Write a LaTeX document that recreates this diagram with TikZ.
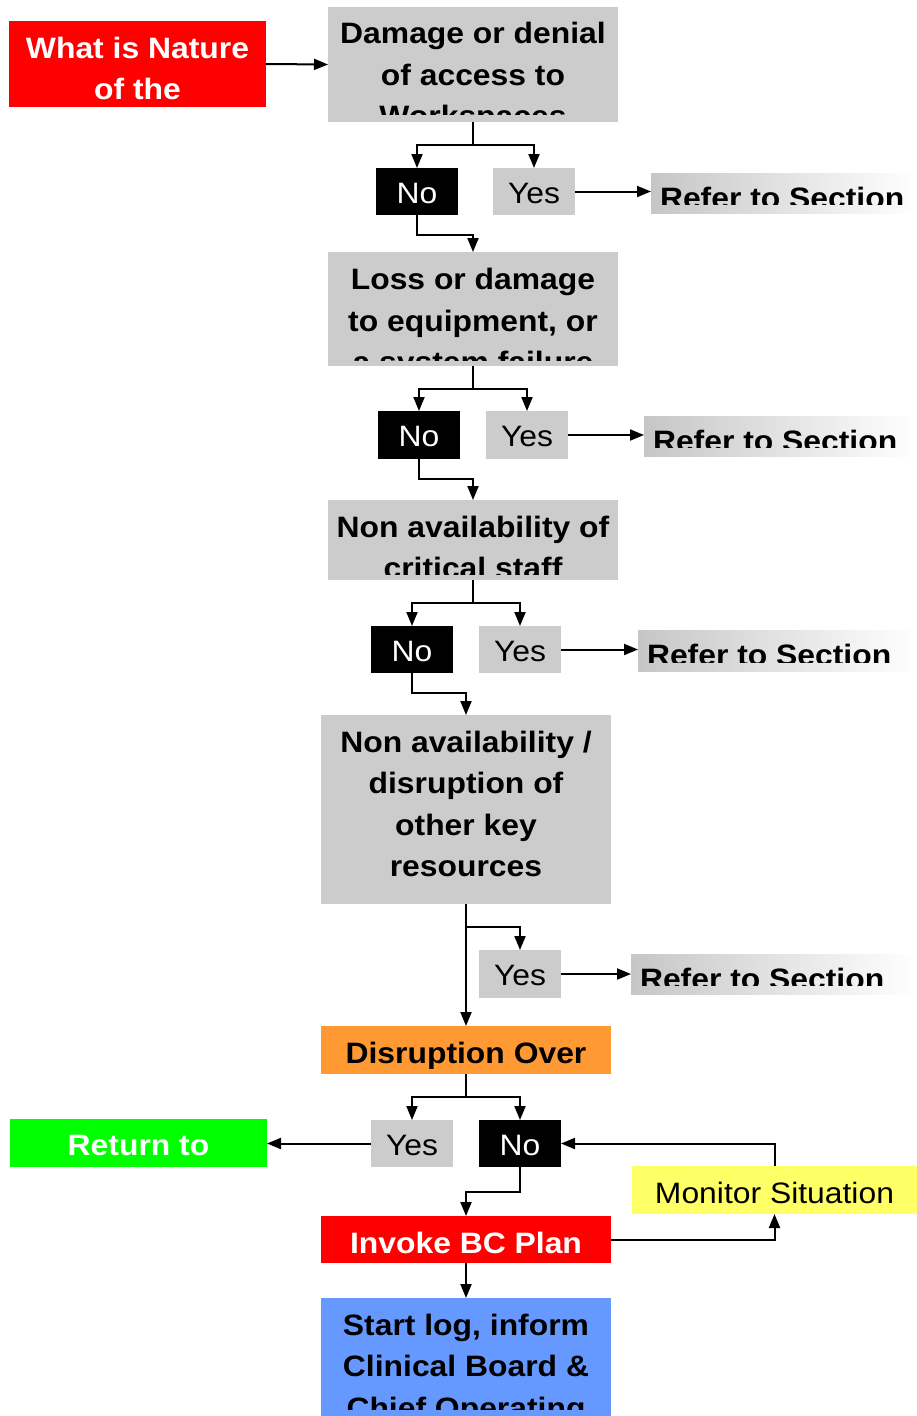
\documentclass[tikz,border=0pt]{standalone}
\usepackage{fontspec}
\setmainfont{Liberation Sans}[FakeStretch=1.08]
\usetikzlibrary{arrows.meta,shadings}
\definecolor{boxgray}{HTML}{CCCCCC}
\definecolor{refgray}{HTML}{C6C6C6}
\definecolor{bred}{HTML}{FF0000}
\definecolor{borange}{HTML}{FF9933}
\definecolor{bgreen}{HTML}{00FF00}
\definecolor{byellow}{HTML}{FFFF66}
\definecolor{bblue}{HTML}{6699FF}
\tikzset{
  shape box/.style={rectangle, inner sep=0pt, outer sep=0pt, anchor=north west, draw=none},
  refbox/.style={shape box, left color=refgray, right color=white},
  txt/.style={inner sep=0pt, outer sep=0pt, align=center, font=\fontsize{29.5}{41.5}\selectfont\bfseries},
  rtxt/.style={inner sep=0pt, outer sep=0pt, align=center, font=\fontsize{29.5}{41.5}\selectfont},
  arr/.style={line width=2pt, -{Triangle[length=14pt,width=11pt]}},
  ln/.style={line width=2pt},
}
\begin{document}
\begin{tikzpicture}[x=1pt,y=-1pt]
\useasboundingbox (0,0) rectangle (917,1416);

% ---------- boxes ----------
\node[shape box, fill=bred, minimum width=257pt, minimum height=86pt] (red) at (9,21) {};
\node[shape box, fill=boxgray, minimum width=290pt, minimum height=115pt] (q1) at (328,7) {};
\node[shape box, fill=black, minimum width=82pt, minimum height=47pt] (no1) at (376,168) {};
\node[shape box, fill=boxgray, minimum width=82pt, minimum height=47pt] (yes1) at (493,168) {};
\node[refbox, minimum width=266pt, minimum height=40pt] (ref1) at (651,173) {};

\node[shape box, fill=boxgray, minimum width=290pt, minimum height=114pt] (q2) at (328,252) {};
\node[shape box, fill=black, minimum width=82pt, minimum height=48pt] (no2) at (378,411) {};
\node[shape box, fill=boxgray, minimum width=82pt, minimum height=48pt] (yes2) at (486,411) {};
\node[refbox, minimum width=273pt, minimum height=40pt] (ref2) at (644,416) {};

\node[shape box, fill=boxgray, minimum width=290pt, minimum height=80pt] (q3) at (328,500) {};
\node[shape box, fill=black, minimum width=82pt, minimum height=47pt] (no3) at (371,626) {};
\node[shape box, fill=boxgray, minimum width=82pt, minimum height=47pt] (yes3) at (479,626) {};
\node[refbox, minimum width=279pt, minimum height=41pt] (ref3) at (638,630) {};

\node[shape box, fill=boxgray, minimum width=290pt, minimum height=189pt] (q4) at (321,715) {};
\node[shape box, fill=boxgray, minimum width=82pt, minimum height=48pt] (yes4) at (479,950) {};
\node[refbox, minimum width=286pt, minimum height=40pt] (ref4) at (631,954) {};

\node[shape box, fill=borange, minimum width=290pt, minimum height=48pt] (dis) at (321,1026) {};
\node[shape box, fill=boxgray, minimum width=82pt, minimum height=47pt] (yes5) at (371,1120) {};
\node[shape box, fill=black, minimum width=82pt, minimum height=47pt] (no5) at (479,1120) {};
\node[shape box, fill=bgreen, minimum width=257pt, minimum height=48pt] (ret) at (10,1119) {};
\node[shape box, fill=byellow, minimum width=285pt, minimum height=48pt] (mon) at (632,1166) {};
\node[shape box, fill=bred, minimum width=290pt, minimum height=47pt] (inv) at (321,1216) {};
\node[shape box, fill=bblue, minimum width=290pt, minimum height=118pt] (start) at (321,1298) {};

% ---------- texts (clipped to the box, a few pt above its bottom) ----------
\begin{scope}\clip (red.north west) rectangle ([yshift=7pt]red.south east);
\node[txt, text=white, anchor=north] (tred) at ([yshift=-16pt]red.north) {What is Nature\\of the};\end{scope}
\begin{scope}\clip (q1.north west) rectangle ([yshift=8pt]q1.south east);
\node[txt, anchor=north] (tq1) at ([yshift=-15.5pt]q1.north) {Damage or denial\\of access to\\Workspaces};\end{scope}
\begin{scope}\clip (q2.north west) rectangle ([yshift=6pt]q2.south east);
\node[txt, anchor=north] (tq2) at ([yshift=-16.5pt]q2.north) {Loss or damage\\to equipment, or\\a system failure};\end{scope}
\begin{scope}\clip (q3.north west) rectangle ([yshift=6pt]q3.south east);
\node[txt, anchor=north] (tq3) at ([yshift=-16pt]q3.north) {Non availability of\\critical staff};\end{scope}
\begin{scope}\clip (q4.north west) rectangle ([yshift=6pt]q4.south east);
\node[txt, anchor=north] (tq4) at ([yshift=-16pt]q4.north) {Non availability /\\disruption of\\other key\\resources};\end{scope}
\begin{scope}\clip (dis.north west) rectangle ([yshift=6pt]dis.south east);
\node[txt, anchor=north] (tdis) at ([yshift=-16pt]dis.north) {Disruption Over};\end{scope}
\begin{scope}\clip (ret.north west) rectangle ([yshift=6pt]ret.south east);
\node[txt, text=white, anchor=north] (tret) at ([yshift=-16pt]ret.north) {Return to};\end{scope}
\begin{scope}\clip (inv.north west) rectangle ([yshift=6pt]inv.south east);
\node[txt, text=white, anchor=north] (tinv) at ([yshift=-16pt]inv.north) {Invoke BC Plan};\end{scope}
\begin{scope}\clip (start.north west) rectangle ([yshift=7pt]start.south east);
\node[txt, anchor=north] (tstart) at ([yshift=-16pt]start.north) {Start log, inform\\Clinical Board \&\\Chief Operating};\end{scope}

\node[rtxt, text=white, anchor=north] (tno1) at ([yshift=-15pt]no1.north) {No};
\node[rtxt, anchor=north] (tyes1) at ([yshift=-15pt]yes1.north) {Yes};
\node[rtxt, text=white, anchor=north] (tno2) at ([yshift=-15pt]no2.north) {No};
\node[rtxt, anchor=north] (tyes2) at ([yshift=-15pt]yes2.north) {Yes};
\node[rtxt, text=white, anchor=north] (tno3) at ([yshift=-15pt]no3.north) {No};
\node[rtxt, anchor=north] (tyes3) at ([yshift=-15pt]yes3.north) {Yes};
\node[rtxt, anchor=north] (tyes4) at ([yshift=-15pt]yes4.north) {Yes};
\node[rtxt, anchor=north] (tyes5) at ([yshift=-15pt]yes5.north) {Yes};
\node[rtxt, text=white, anchor=north] (tno5) at ([yshift=-15pt]no5.north) {No};
\node[rtxt, anchor=north] (tmon) at ([yshift=-16.5pt]mon.north) {Monitor Situation};

\begin{scope}\clip (ref1.north west) rectangle ([yshift=9pt]ref1.south east);
\node[txt, anchor=north west] (tref1) at ([xshift=9pt,yshift=-14pt]ref1.north west) {Refer to Section};\end{scope}
\begin{scope}\clip (ref2.north west) rectangle ([yshift=9pt]ref2.south east);
\node[txt, anchor=north west] (tref2) at ([xshift=9pt,yshift=-14pt]ref2.north west) {Refer to Section};\end{scope}
\begin{scope}\clip (ref3.north west) rectangle ([yshift=9pt]ref3.south east);
\node[txt, anchor=north west] (tref3) at ([xshift=9pt,yshift=-14pt]ref3.north west) {Refer to Section};\end{scope}
\begin{scope}\clip (ref4.north west) rectangle ([yshift=9pt]ref4.south east);
\node[txt, anchor=north west] (tref4) at ([xshift=9pt,yshift=-14pt]ref4.north west) {Refer to Section};\end{scope}

% ---------- connectors ----------
\draw[arr] (red.east) -- (q1.west);

\coordinate (b1) at (473,145);
\draw[ln] (q1.south) -- (b1);
\draw[arr] (b1) -| (no1.north);
\draw[arr] (b1) -| (yes1.north);
\draw[arr] (yes1.east) -- (ref1.west |- yes1.east);
\draw[arr] (no1.south) -- ++(0,20) -| (q2.north);

\coordinate (b2) at (473,389);
\draw[ln] (q2.south) -- (b2);
\draw[arr] (b2) -| (no2.north);
\draw[arr] (b2) -| (yes2.north);
\draw[arr] (yes2.east) -- (ref2.west |- yes2.east);
\draw[arr] (no2.south) -- ++(0,20) -| (q3.north);

\coordinate (b3) at (473,603);
\draw[ln] (q3.south) -- (b3);
\draw[arr] (b3) -| (no3.north);
\draw[arr] (b3) -| (yes3.north);
\draw[arr] (yes3.east) -- (ref3.west |- yes3.east);
\draw[arr] (no3.south) -- ++(0,20) -| (q4.north);

\coordinate (b4) at (466,927);
\draw[arr] (q4.south) -- (dis.north);
\draw[arr] (b4) -| (yes4.north);
\draw[arr] (yes4.east) -- (ref4.west |- yes4.east);

\coordinate (b5) at (466,1097);
\draw[ln] (dis.south) -- (b5);
\draw[arr] (b5) -| (yes5.north);
\draw[arr] (b5) -| (no5.north);
\draw[arr] (yes5.west) -- (ret.east |- yes5.west);
\draw[arr] (no5.south) -- ++(0,25) -| (inv.north);
\draw[arr] (inv.east) -| (mon.south);
\draw[arr] (mon.north) |- (no5.east);
\draw[arr] (inv.south) -- (start.north);
\end{tikzpicture}
\end{document}
